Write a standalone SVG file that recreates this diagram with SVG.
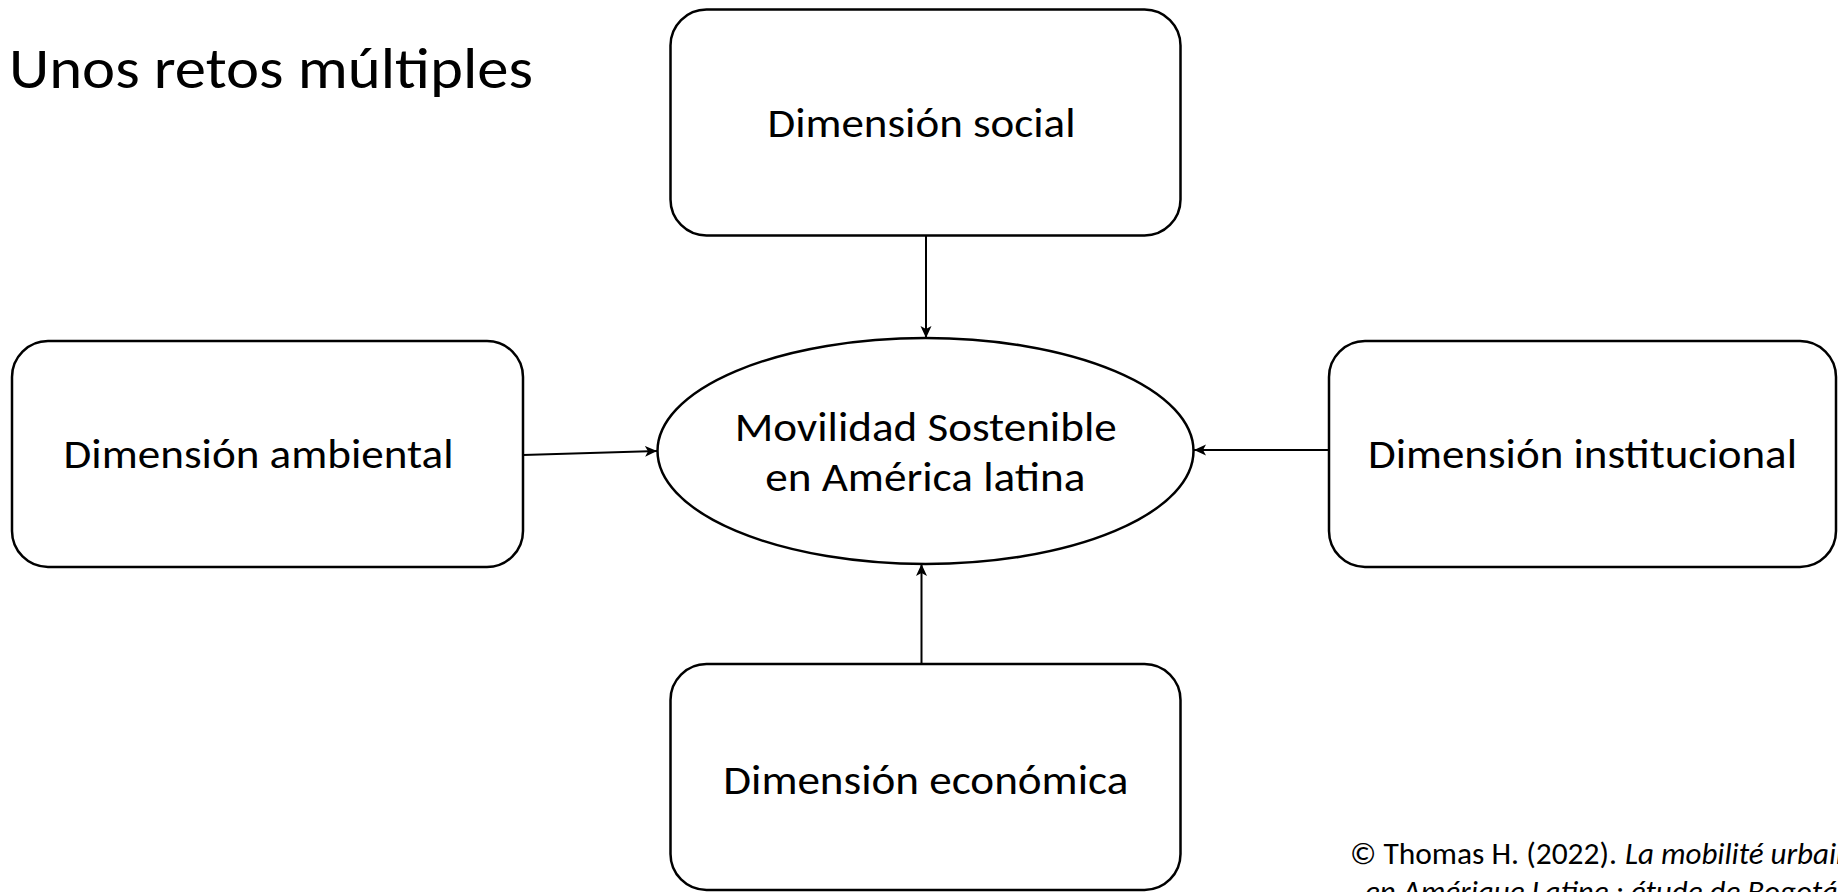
<svg xmlns="http://www.w3.org/2000/svg" width="1838" height="892" viewBox="0 0 1838 892">
  <defs>
    <style>
      .box { fill: #ffffff; stroke: #000000; stroke-width: 2.5; }
      .lbl { font-family: Carlito, Lato, "Open Sans", sans-serif; font-size: 42px; fill: #000000; text-anchor: middle; }
      .title { font-family: Carlito, Lato, "Open Sans", sans-serif; font-size: 57px; fill: #000000; }
      .cite { font-family: Carlito, Lato, "Open Sans", sans-serif; font-size: 31px; fill: #000000; }
      .conn { stroke: #000000; stroke-width: 2; fill: none; marker-end: url(#arrow); }
    </style>
    <marker id="arrow" markerUnits="userSpaceOnUse" markerWidth="13" markerHeight="12" refX="12" refY="5.5" orient="auto">
      <path d="M0,0 L12,5.5 L0,11 L3,5.5 Z" fill="#000000"/>
    </marker>
  </defs>
  <rect width="1838" height="892" fill="#ffffff"/>

  <text class="title" x="9" y="88" textLength="524" lengthAdjust="spacingAndGlyphs">Unos retos múltiples</text>

  <g id="connectors">
    <line class="conn" x1="926" y1="236" x2="926" y2="338"/>
    <line class="conn" x1="921.5" y1="664" x2="921.5" y2="564"/>
    <line class="conn" x1="523" y1="455" x2="657" y2="451"/>
    <line class="conn" x1="1329" y1="450" x2="1194" y2="450"/>
  </g>

  <g id="node-social">
    <rect class="box" x="670.5" y="9.5" width="510" height="226" rx="36" ry="36"/>
    <text class="lbl" x="921.5" y="137" textLength="308" lengthAdjust="spacingAndGlyphs">Dimensión social</text>
  </g>

  <g id="node-ambiental">
    <rect class="box" x="12" y="341" width="511" height="226" rx="36" ry="36"/>
    <text class="lbl" x="258.6" y="468" textLength="390" lengthAdjust="spacingAndGlyphs">Dimensión ambiental</text>
  </g>

  <g id="node-institucional">
    <rect class="box" x="1329" y="341" width="507" height="226" rx="36" ry="36"/>
    <text class="lbl" x="1582.5" y="468" textLength="429" lengthAdjust="spacingAndGlyphs">Dimensión institucional</text>
  </g>

  <g id="node-economica">
    <rect class="box" x="670.5" y="664" width="510" height="226" rx="36" ry="36"/>
    <text class="lbl" x="925.8" y="794" textLength="405" lengthAdjust="spacingAndGlyphs">Dimensión económica</text>
  </g>

  <g id="node-center">
    <ellipse class="box" cx="925.5" cy="451" rx="268" ry="113"/>
    <text class="lbl" x="925.7" y="441" textLength="382" lengthAdjust="spacingAndGlyphs">Movilidad Sostenible</text>
    <text class="lbl" x="925.3" y="491" textLength="320" lengthAdjust="spacingAndGlyphs">en América latina</text>
  </g>

  <g id="citation">
    <text class="cite" y="864"><tspan x="1350" textLength="267" lengthAdjust="spacingAndGlyphs">© Thomas H. (2022).</tspan><tspan x="1625" font-style="italic">La mobilité urbaine</tspan></text>
    <text class="cite" x="1365" y="902" font-style="italic">en Amérique Latine : étude de Bogotá</text>
  </g>
</svg>
